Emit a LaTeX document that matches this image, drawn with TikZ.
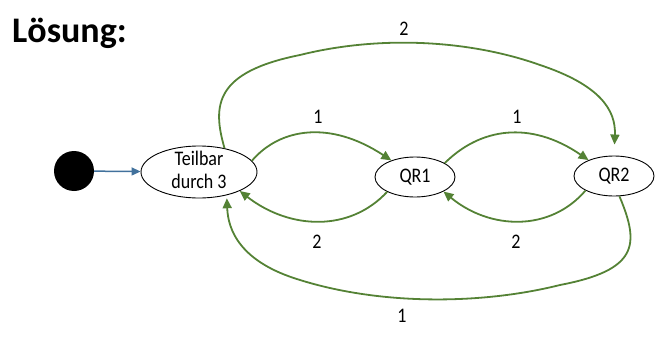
\documentclass[tikz,border=0pt]{standalone}
\usepackage{fontspec}
\setmainfont{Carlito}
\usetikzlibrary{shapes.geometric,arrows.meta}
\definecolor{edgegreen}{RGB}{84,130,53}
\definecolor{edgeblue}{RGB}{65,113,156}
\newcommand{\tallt}[1]{\scalebox{1}[1.15]{#1}}
\tikzset{
  state/.style={ellipse,draw=black,line width=0.9pt,inner sep=0pt,align=center,
    font=\fontsize{18pt}{21pt}\selectfont},
  trans/.style={draw=edgegreen,line width=1.8pt,-{Triangle[length=10pt,width=9pt]}},
  lbl/.style={font=\fontsize{18pt}{21pt}\selectfont,inner sep=0pt}
}
\begin{document}
\begin{tikzpicture}[x=1pt,y=-1pt]
\useasboundingbox (0,0) rectangle (666,337);
\node[anchor=base west,inner sep=0pt,font=\fontsize{36pt}{40pt}\selectfont\bfseries] (title) at (12,43) {Lösung:};
\node[circle,fill=black,minimum size=40pt,inner sep=0pt] (start) at (74,171) {};
\node[state,minimum width=116pt,minimum height=52pt,
  label={[lbl]center:\tallt{\begin{tabular}{@{}c@{}}Teilbar\\[-1pt]durch 3\end{tabular}}}] (T) at (199,172) {};
\node[state,minimum width=80pt,minimum height=40pt] (Q1) at (415,177) {\tallt{QR1}};
\node[state,minimum width=80pt,minimum height=40pt] (Q2) at (614,176) {\tallt{QR2}};
\draw[draw=edgeblue,line width=1.5pt,-{Triangle[length=9pt,width=8pt]}] (start) -- (T);
% T -> QR1
\draw[trans] (T.12) .. controls (280,128) and (330,120) .. (Q1.145);
\node[lbl] (l1) at (318,117) {\tallt{1}};
% QR1 -> T
\draw[trans] (Q1.208) .. controls (350,232) and (290,230) .. (T.-25);
\node[lbl] (l2) at (317,242) {\tallt{2}};
% QR1 -> QR2
\draw[trans] (Q1.25) .. controls (480,128) and (530,120) .. (Q2.148);
\node[lbl] (l3) at (517,117) {\tallt{1}};
% QR2 -> QR1
\draw[trans] (Q2.207) .. controls (550,232) and (490,230) .. (Q1.-27);
\node[lbl] (l4) at (516,242) {\tallt{2}};
% T -> QR2 top
\draw[trans,shorten >=11pt] (T.43) .. controls (212,105) and (215,72) .. (300,55)
  .. controls (380,35) and (470,40) .. (540,65)
  .. controls (600,85) and (616,110) .. (Q2.north);
\node[lbl] (l5) at (404,29) {\tallt{2}};
% QR2 -> T bottom
\draw[trans,shorten >=3pt] (Q2.-75) .. controls (640,245) and (638,270) .. (560,285)
  .. controls (480,305) and (380,305) .. (300,280)
  .. controls (240,262) and (228,230) .. (T.-40);
\node[lbl] (l6) at (402,316) {\tallt{1}};
\end{tikzpicture}
\end{document}
